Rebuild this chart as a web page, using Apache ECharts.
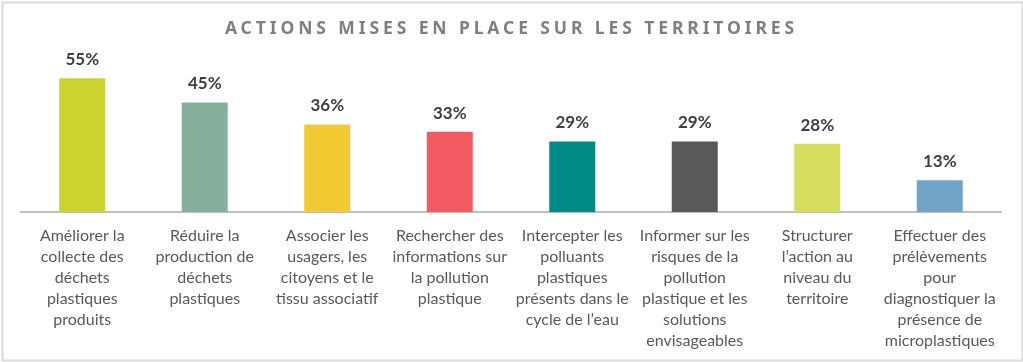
<!DOCTYPE html>
<html><head><meta charset="utf-8">
<script src="https://cdn.jsdelivr.net/npm/echarts@6/dist/echarts.min.js"></script>
<style>
html,body{margin:0;padding:0;background:#fff;}
#wrap{position:relative;width:1023px;height:362px;}
#chart{position:absolute;left:0;top:0;width:1023px;height:362px;}
#title{position:absolute;left:0;top:15px;width:1023px;text-align:center;font-family:'Noto Sans',sans-serif;font-weight:bold;font-size:17.5px;letter-spacing:3.9px;color:#7f7f7f;pointer-events:none;}
</style></head>
<body><div id="wrap"><div id="chart"></div><div id="title">ACTIONS MISES EN PLACE SUR LES TERRITOIRES</div></div>
<script>
const titleText = 'ACTIONS MISES EN PLACE SUR LES TERRITOIRES';
const categories = [
  'Améliorer la\ncollecte des\ndéchets\nplastiques\nproduits',
  'Réduire la\nproduction de\ndéchets\nplastiques',
  'Associer les\nusagers, les\ncitoyens et le\ntissu associatif',
  'Rechercher des\ninformations sur\nla pollution\nplastique',
  'Intercepter les\npolluants\nplastiques\nprésents dans le\ncycle de l’eau',
  'Informer sur les\nrisques de la\npollution\nplastique et les\nsolutions\nenvisageables',
  'Structurer\nl’action au\nniveau du\nterritoire',
  'Effectuer des\nprélèvements\npour\ndiagnostiquer la\nprésence de\nmicroplastiques'
];
const values = [55, 45, 36, 33, 29, 29, 28, 13];
const colors = ['#cad32f', '#84b09b', '#f0c933', '#f15a61', '#008985', '#595959', '#d7dc5e', '#71a4c6'];

const chart = echarts.init(document.getElementById('chart'), null, {renderer: 'canvas'});
chart.setOption({
  animation: false,
  backgroundColor: '#fff',
  graphic: [{
    type: 'rect', left: 0, top: 0, z: -1,
    shape: {x: 0.5, y: 0.5, width: 1020, height: 358},
    style: {fill: 'none', stroke: '#d9d9d9', lineWidth: 2}
  }],
  grid: {left: 21, right: 22, top: 66, bottom: 150, containLabel: false},
  xAxis: {
    type: 'category',
    data: categories,
    axisLine: {lineStyle: {color: '#bfbfbf', width: 2}},
    axisTick: {show: false},
    axisLabel: {
      interval: 0, margin: 13, color: '#595959',
      fontFamily: 'Lato', fontSize: 16, lineHeight: 21, align: 'center'
    }
  },
  yAxis: {
    type: 'value', min: 0, max: 60, show: false,
    splitLine: {show: false}
  },
  series: [{
    type: 'bar',
    data: values.map((v, i) => ({value: v, itemStyle: {color: colors[i]}})),
    barWidth: 46,
    label: {
      show: true, position: 'top', distance: 10,
      formatter: p => p.value + '%',
      color: '#404040', fontFamily: 'Lato', fontWeight: 'bold', fontSize: 17
    }
  }]
});
</script></body></html>
